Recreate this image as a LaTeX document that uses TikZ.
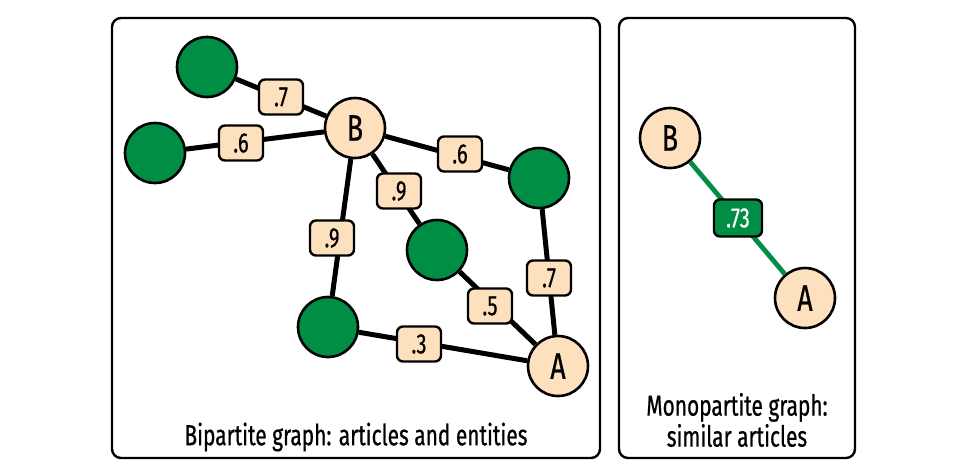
\documentclass[tikz,border=0pt]{standalone}
\usepackage{fontspec}
\setmainfont{Fira Sans}[FakeStretch=0.72, FakeBold=0.6]
\usetikzlibrary{backgrounds}
\definecolor{ggreen}{RGB}{0,142,68}
\definecolor{tanc}{RGB}{253,224,190}
\begin{document}
\begin{tikzpicture}[x=1pt,y=-1pt,
  panel/.style={draw, line width=2.4pt, rounded corners=9pt},
  ent/.style={circle, draw, line width=2.6pt, fill=ggreen, minimum size=60pt, inner sep=0pt},
  art/.style={circle, draw, line width=2.6pt, fill=tanc, minimum size=60pt, inner sep=0pt, font=\fontsize{37}{37}\selectfont},
  wlbl/.style={draw, line width=2.4pt, rounded corners=6pt, fill=tanc, minimum width=44pt, minimum height=35pt, inner sep=0pt, font=\fontsize{28}{28}\selectfont},
  glbl/.style={wlbl, fill=ggreen, text=white, minimum width=48pt, minimum height=37pt},
  edgeb/.style={line width=5pt},
  edgeg/.style={line width=4.8pt, draw=ggreen},
  capt/.style={font=\fontsize{29}{31}\selectfont, align=center}]
\useasboundingbox (0,0) rectangle (956,474);
% panels
\draw[panel] (112,18) rectangle (600,458);
\draw[panel] (619,18) rectangle (855,458);
% left graph nodes
\node[ent] (g1) at (207,67) {};
\node[ent] (g2) at (155,153) {};
\node[art] (B) at (355,128) {B};
\node[ent] (g3) at (539,178) {};
\node[ent] (gm) at (437,250) {};
\node[ent] (gb) at (328,327) {};
\node[art] (A) at (558,366) {A};
% labels
\node[wlbl] (l1) at (281,97) {.7};
\node[wlbl] (l2) at (241,143) {.6};
\node[wlbl] (l3) at (460,154) {.6};
\node[wlbl] (l4) at (399,191) {.9};
\node[wlbl] (l5) at (332,238) {.9};
\node[wlbl] (l6) at (549,278) {.7};
\node[wlbl] (l7) at (490,306) {.5};
\node[wlbl] (l8) at (419,344) {.3};
% right graph
\node[art] (B2) at (670,138) {B};
\node[art] (A2) at (805,298) {A};
\node[glbl] (l9) at (738,218) {.73};
% captions
\node[capt] (c1) at (356,437) {Bipartite graph: articles and entities};
\node[capt] (c2) at (737,420) {Monopartite graph:\\similar articles};
% edges
\begin{pgfonlayer}{background}
\fill[white] (0,0) rectangle (956,474);
\draw[edgeb] (g1) -- (B);
\draw[edgeb] (g2) -- (B);
\draw[edgeb] (B) -- (g3);
\draw[edgeb] (B) -- (gm);
\draw[edgeb] (B) -- (gb);
\draw[edgeb] (g3) -- (A);
\draw[edgeb] (gm) -- (A);
\draw[edgeb] (gb) -- (A);
\draw[edgeg] (B2) -- (A2);
\end{pgfonlayer}
\end{tikzpicture}
\end{document}
